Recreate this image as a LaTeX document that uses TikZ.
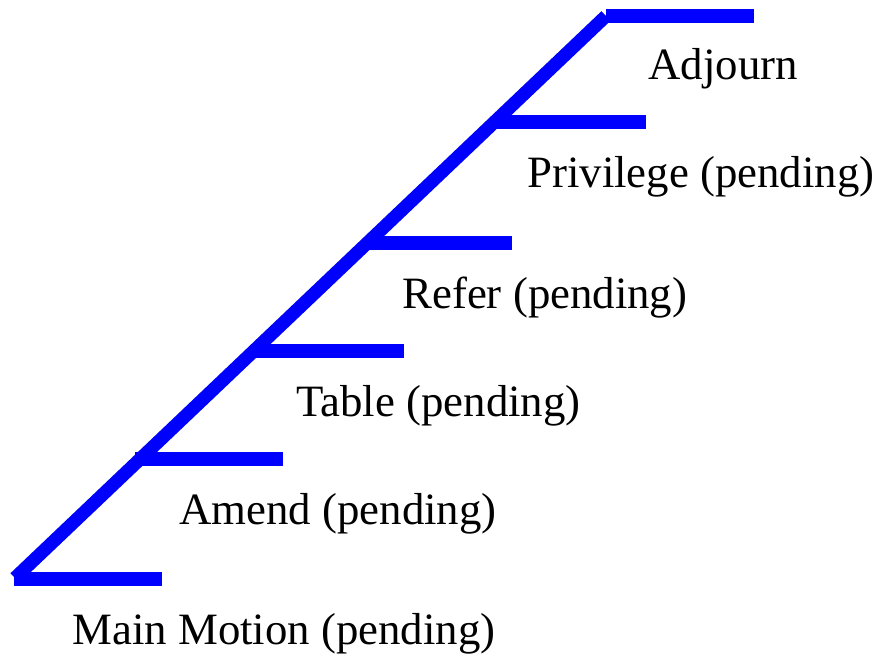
\documentclass[tikz,border=0pt]{standalone}
\usepackage{fontspec}
\setmainfont{Liberation Serif}
\usetikzlibrary{positioning}
\definecolor{stair}{HTML}{0000FF}

\begin{document}
\begin{tikzpicture}[x=0.5pt,y=-0.5pt,
  rail/.style={draw=stair,line width=6.6pt},
  lbl/.style={anchor=base west,inner sep=0,font=\fontsize{22.4}{27}\selectfont}]
  \useasboundingbox (0,0) rectangle (878,656);
  % the rising rail
  \coordinate (foot) at (15,578);
  \coordinate (head) at (606,16);
  \draw[rail] (foot) -- (head);
  % one step per motion: start x / end x / height / label x / baseline
  \foreach \sx/\ex/\sy/\tx/\ty/\name/\txt in {
      14/162/579/72/645/main/{Main Motion (pending)},
      135/283/459/179/525/amend/{Amend (pending)},
      255/404/351/296/417/table/{Table (pending)},
      368/512/243/402/309/refer/{Refer (pending)},
      497/646/122/527/188/priv/{Privilege (pending)},
      606/754/16/648/80/adj/{Adjourn}}
  {
    \draw[rail] (\sx,\sy) -- (\ex,\sy);
    \node[lbl] (\name) at (\tx,\ty) {\txt};
  }
\end{tikzpicture}
\end{document}
